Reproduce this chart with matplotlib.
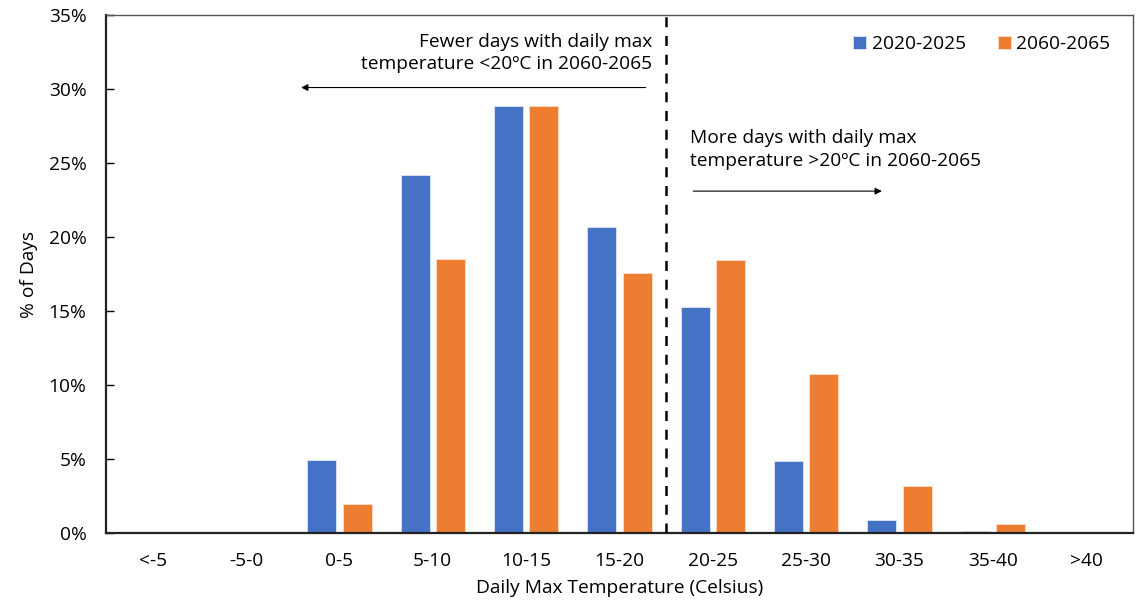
import matplotlib
matplotlib.use('Agg')
import matplotlib.pyplot as plt
import numpy as np

plt.rcParams['font.family'] = ['Open Sans', 'DejaVu Sans']

CATEGORIES = ['<-5', '-5-0', '0-5', '5-10', '10-15', '15-20',
              '20-25', '25-30', '30-35', '35-40', '>40']
SERIES = ['2020-2025', '2060-2065']
VALS_2020 = [0.0, 0.05, 4.95, 24.2, 28.85, 20.7, 15.3, 4.85, 0.88, 0.13, 0.03]
VALS_2060 = [0.0, 0.05, 1.95, 18.5, 28.85, 17.6, 18.45, 10.75, 3.2, 0.6, 0.03]
COLORS = ['#4472C4', '#ED7D31']
FS = 13.8

fig = plt.figure(figsize=(11.48, 6.01), dpi=100)
ax = fig.add_axes([106 / 1148, 1 - 533 / 601, (1133 - 106) / 1148, (533 - 15) / 601])

x = np.arange(len(CATEGORIES))
w = 0.31
off = 0.19
ax.bar(x - off, VALS_2020, w, color=COLORS[0], edgecolor='#dfe6f4',
       linewidth=0.6, label=SERIES[0], zorder=2)
ax.bar(x + off, VALS_2060, w, color=COLORS[1], edgecolor='#fbe0cc',
       linewidth=0.6, label=SERIES[1], zorder=2)

ax.set_xlim(-0.5, len(CATEGORIES) - 0.5)
ax.set_ylim(0, 35)
ax.set_yticks(np.arange(0, 36, 5))
ax.set_yticklabels([f'{v}%' for v in range(0, 36, 5)])
ax.set_xticks(x)
ax.set_xticklabels(CATEGORIES)
ax.tick_params(axis='y', direction='in', length=6, width=1, labelsize=FS, pad=14)
ax.tick_params(axis='x', length=0, labelsize=FS, pad=14)

for s in ['left', 'bottom']:
    ax.spines[s].set_linewidth(1.6)
    ax.spines[s].set_color('#222222')
for s in ['top', 'right']:
    ax.spines[s].set_linewidth(1.0)
    ax.spines[s].set_color('#555555')

ax.set_ylabel('% of Days', fontsize=FS, labelpad=8)
ax.set_xlabel('Daily Max Temperature (Celsius)', fontsize=FS, labelpad=6)

# dividing line at 20 C
ax.axvline(5.5, color='black', linestyle=(0, (4, 3.5)), linewidth=1.8, zorder=3)

ax.annotate('', xy=(1.56, 30.1), xytext=(5.31, 30.1),
            arrowprops=dict(arrowstyle='-|>', color='black', lw=0.8,
                            mutation_scale=10))
ax.annotate('', xy=(7.84, 23.1), xytext=(5.76, 23.1),
            arrowprops=dict(arrowstyle='-|>', color='black', lw=0.8,
                            mutation_scale=10))

ax.text(5.35, 31.1, 'Fewer days with daily max\ntemperature <20\u00baC in 2060-2065',
        ha='right', va='bottom', fontsize=FS, linespacing=1.3)
ax.text(5.76, 24.55, 'More days with daily max\ntemperature >20\u00baC in 2060-2065',
        ha='left', va='bottom', fontsize=FS, linespacing=1.3)

ax.legend(loc='upper right', ncol=2, frameon=False, fontsize=FS,
          handlelength=0.65, handleheight=0.65, handletextpad=0.3,
          columnspacing=1.7, bbox_to_anchor=(0.995, 0.995))

fig.savefig('out.png', dpi=100)
